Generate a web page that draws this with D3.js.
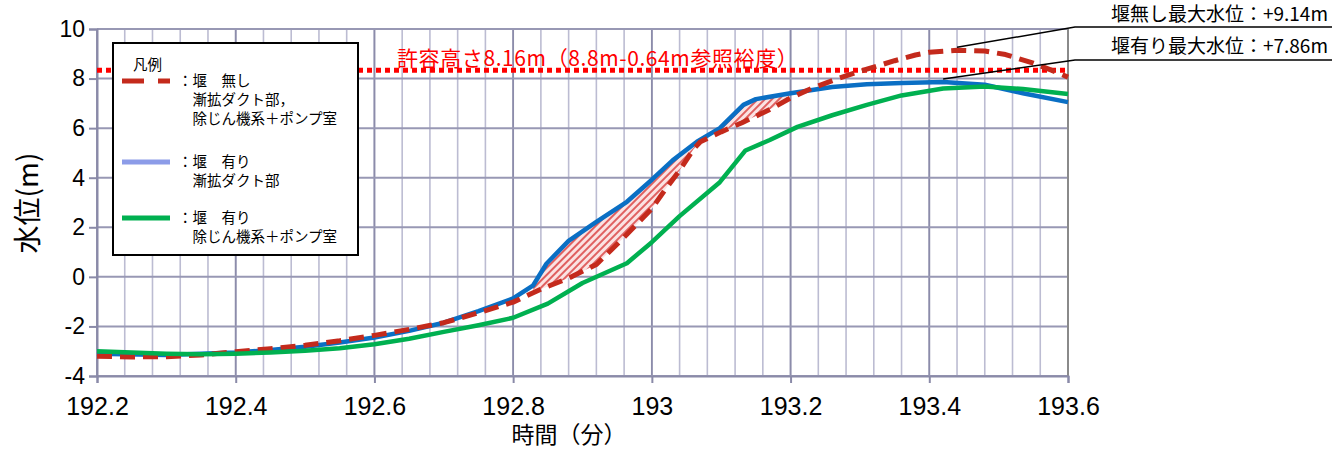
<!DOCTYPE html>
<html><head><meta charset="utf-8">
<script src="https://cdn.jsdelivr.net/npm/d3@7"></script>
<style>
html,body{margin:0;padding:0;background:#fff;}
svg{display:block;}
</style></head>
<body>
<svg id="c" width="1332" height="451"></svg>
<script>
// ---- data ----
const xTicks = [192.2, 192.4, 192.6, 192.8, 193, 193.2, 193.4, 193.6];
const xTickLabels = ["192.2", "192.4", "192.6", "192.8", "193", "193.2", "193.4", "193.6"];
const yTicks = [-4, -2, 0, 2, 4, 6, 8, 10];
const yTickLabels = ["-4", "-2", "0", "2", "4", "6", "8", "10"];

// 堰 無し (dashed red)
const tNoWeir = [192.2, 192.25, 192.3, 192.35, 192.4, 192.45, 192.5, 192.55, 192.6, 192.65, 192.7, 192.75, 192.8, 192.84, 192.88, 192.92, 192.96, 193.0, 193.02, 193.04, 193.06, 193.07, 193.1, 193.13, 193.17, 193.2, 193.23, 193.27, 193.31, 193.35, 193.38, 193.4, 193.44, 193.48, 193.51, 193.55, 193.575, 193.6];
const vNoWeir = [-3.2, -3.23, -3.22, -3.15, -3.02, -2.9, -2.76, -2.58, -2.36, -2.12, -1.85, -1.45, -1.02, -0.5, -0.05, 0.5, 1.6, 2.75, 3.55, 4.3, 5.15, 5.45, 5.85, 6.22, 6.75, 7.22, 7.6, 8.02, 8.38, 8.72, 8.95, 9.06, 9.14, 9.11, 8.97, 8.62, 8.35, 8.06];

// 堰 有り 漸拡ダクト部 (blue)
const tDuct = [192.2, 192.3, 192.4, 192.45, 192.5, 192.55, 192.6, 192.65, 192.7, 192.75, 192.8, 192.829, 192.848, 192.88, 192.92, 192.964, 193.0, 193.03, 193.065, 193.098, 193.132, 193.15, 193.2, 193.26, 193.31, 193.36, 193.42, 193.48, 193.535, 193.6];
const vDuct = [-3.1, -3.15, -3.05, -2.95, -2.82, -2.65, -2.45, -2.18, -1.85, -1.38, -0.87, -0.34, 0.53, 1.45, 2.22, 3.03, 3.92, 4.7, 5.45, 6.0, 6.94, 7.17, 7.41, 7.66, 7.77, 7.82, 7.86, 7.75, 7.41, 7.05];

// 堰 有り 除じん機系＋ポンプ室 (green)
const tPump = [192.2, 192.25, 192.3, 192.35, 192.4, 192.45, 192.5, 192.55, 192.6, 192.65, 192.7, 192.75, 192.8, 192.85, 192.9, 192.964, 193.0, 193.04, 193.098, 193.135, 193.17, 193.21, 193.26, 193.31, 193.36, 193.42, 193.48, 193.535, 193.6];
const vPump = [-3.0, -3.05, -3.1, -3.12, -3.1, -3.05, -2.98, -2.88, -2.72, -2.5, -2.22, -1.95, -1.65, -1.08, -0.25, 0.55, 1.4, 2.45, 3.82, 5.1, 5.52, 6.05, 6.52, 6.94, 7.32, 7.6, 7.68, 7.58, 7.38];

const allowLevel = 8.34;
const allowLabel = "許容高さ8.16m（8.8m-0.64m参照裕度）";
const hatchRanges = [[192.829, 193.068], [193.098, 193.195]];
const peakNoWeir = {t: 193.44, v: 9.14, label: "堰無し最大水位：+9.14m"};
const peakWeir = {t: 193.42, v: 7.86, label: "堰有り最大水位：+7.86m"};
const minorStep = 0.04;

// ---- layout ----
const svg = d3.select("#c");
const x = d3.scaleLinear().domain([192.2, 193.6]).range([97, 1068]);
const y = d3.scaleLinear().domain([-4, 10]).range([376, 29]);
const latin = "'Liberation Sans', Arial, sans-serif";
const jp = "'Noto Sans CJK JP', 'Noto Sans', sans-serif";

const defs = svg.append("defs");
const pat = defs.append("pattern").attr("id", "hatch").attr("patternUnits", "userSpaceOnUse")
  .attr("width", 5).attr("height", 5).attr("patternTransform", "rotate(45)");
pat.append("rect").attr("width", 5).attr("height", 5).attr("fill", "#fbe3e3");
pat.append("line").attr("x1", 1).attr("x2", 1).attr("y1", 0).attr("y2", 5)
  .attr("stroke", "#e06060").attr("stroke-width", 2);

// grid
const minorTicks = d3.range(0, 36).map(i => +(192.2 + i * minorStep).toFixed(2));
const g = svg.append("g");
g.selectAll("line.minor").data(minorTicks).join("line")
  .attr("x1", d => x(d)).attr("x2", d => x(d)).attr("y1", y(10)).attr("y2", y(-4))
  .attr("stroke", "#bcbcd2").attr("stroke-width", 1.6);
g.selectAll("line.majorx").data(xTicks).join("line")
  .attr("x1", d => x(d)).attr("x2", d => x(d)).attr("y1", y(10)).attr("y2", y(-4))
  .attr("stroke", "#8c8caa").attr("stroke-width", 1.8);
g.selectAll("line.majory").data(yTicks).join("line")
  .attr("x1", x(192.2)).attr("x2", x(193.6)).attr("y1", d => y(d)).attr("y2", d => y(d))
  .attr("stroke", "#9898b4").attr("stroke-width", 2);
// right frame
g.append("line").attr("x1", x(193.6)).attr("x2", x(193.6)).attr("y1", y(10)).attr("y2", y(-4))
  .attr("stroke", "#8a8a8a").attr("stroke-width", 2);

// axes
const xAxis = d3.axisBottom(x).tickValues(xTicks).tickFormat((d, i) => xTickLabels[i]).tickSize(7).tickPadding(14);
const gx = svg.append("g").attr("transform", `translate(0,${y(-4)})`).call(xAxis);
gx.select(".domain").attr("stroke", "#8a8aa8").attr("stroke-width", 2);
gx.selectAll(".tick line").attr("stroke", "#8a8aa8").attr("stroke-width", 2);
gx.selectAll(".tick text").attr("font-family", latin).attr("font-size", 25).attr("fill", "#000");

const yAxis = d3.axisLeft(y).tickValues(yTicks).tickFormat((d, i) => yTickLabels[i]).tickSize(8).tickPadding(4);
const gy = svg.append("g").attr("transform", `translate(${x(192.2)},0)`).call(yAxis);
gy.select(".domain").attr("stroke", "#8a8aa8").attr("stroke-width", 2);
gy.selectAll(".tick line").attr("stroke", "#8a8aa8").attr("stroke-width", 2);
gy.selectAll(".tick text").attr("font-family", latin).attr("font-size", 23).attr("fill", "#000");

// axis titles
svg.append("text").attr("x", 569).attr("y", 443).attr("text-anchor", "middle")
  .attr("font-family", jp).attr("font-size", 23).text("時間（分）");
svg.append("text").attr("transform", "translate(38,203) rotate(-90)").attr("text-anchor", "middle")
  .attr("font-family", jp).attr("font-size", 28).text("水位(m)");

// allowable level dotted line
svg.append("line").attr("x1", x(192.2)).attr("x2", x(193.6)).attr("y1", y(allowLevel)).attr("y2", y(allowLevel))
  .attr("stroke", "#ff0000").attr("stroke-width", 5).attr("stroke-dasharray", "5,4");
svg.append("text").attr("x", 397).attr("y", 66).attr("font-family", jp).attr("font-size", 21)
  .attr("letter-spacing", 0.6).attr("fill", "#ff0000").text(allowLabel);

// interpolation helpers
function interp(ts, vs, t) {
  const i = d3.bisectLeft(ts, t);
  if (i <= 0) return vs[0];
  if (i >= ts.length) return vs[vs.length - 1];
  const t0 = ts[i - 1], t1 = ts[i];
  return vs[i - 1] + (vs[i] - vs[i - 1]) * (t - t0) / (t1 - t0);
}
// hatch between blue (upper) and red (lower)
hatchRanges.forEach(([a, b]) => {
  const ts = Array.from(new Set([a, b, ...tDuct.filter(t => t > a && t < b), ...tNoWeir.filter(t => t > a && t < b)])).sort((p, q) => p - q);
  const pts = ts.map(t => ({t, hi: interp(tDuct, vDuct, t), lo: interp(tNoWeir, vNoWeir, t)}));
  const area = d3.area().x(d => x(d.t)).y0(d => y(d.lo)).y1(d => y(Math.max(d.hi, d.lo)));
  svg.append("path").attr("d", area(pts)).attr("fill", "url(#hatch)");
});

const line = d3.line().x(d => x(d[0])).y(d => y(d[1]));
svg.append("path").attr("d", line(d3.zip(tDuct, vDuct))).attr("fill", "none")
  .attr("stroke", "#0a6fc4").attr("stroke-width", 4.5).attr("stroke-linejoin", "round");
svg.append("path").attr("d", line(d3.zip(tNoWeir, vNoWeir))).attr("fill", "none")
  .attr("stroke", "#c42a1c").attr("stroke-width", 5).attr("stroke-dasharray", "15,8").attr("stroke-linejoin", "round");
svg.append("path").attr("d", line(d3.zip(tPump, vPump))).attr("fill", "none")
  .attr("stroke", "#00b050").attr("stroke-width", 4.5).attr("stroke-linejoin", "round");

// annotations
function annotate(p, elbowY, textY) {
  svg.append("polyline").attr("points", `${x(p.t)},${y(p.v) - 3} 1075,${elbowY} 1332,${elbowY}`)
    .attr("fill", "none").attr("stroke", "#000").attr("stroke-width", 1.5);
  svg.append("text").attr("x", 1328).attr("y", textY).attr("text-anchor", "end")
    .attr("font-family", jp).attr("font-size", 19).text(p.label);
}
annotate(peakNoWeir, 27, 21);
annotate(peakWeir, 60, 53);

// legend
const lg = svg.append("g");
lg.append("rect").attr("x", 113).attr("y", 43).attr("width", 245).attr("height", 212)
  .attr("fill", "#fff").attr("stroke", "#000").attr("stroke-width", 2);
lg.append("text").attr("x", 133).attr("y", 70).attr("font-family", jp).attr("font-size", 14.5).text("凡例");
const legendItems = [
  {y: 81, stroke: "#c42a1c", dash: "22,14", lines: ["：堰　無し", "　漸拡ダクト部，", "　除じん機系＋ポンプ室"]},
  {y: 162, stroke: "#8c9ce8", dash: null, lines: ["：堰　有り", "　漸拡ダクト部"]},
  {y: 218, stroke: "#00b050", dash: null, lines: ["：堰　有り", "　除じん機系＋ポンプ室"]}
];
legendItems.forEach(it => {
  lg.append("line").attr("x1", 122).attr("x2", 170).attr("y1", it.y).attr("y2", it.y)
    .attr("stroke", it.stroke).attr("stroke-width", 5).attr("stroke-dasharray", it.dash);
  it.lines.forEach((s, i) => {
    lg.append("text").attr("x", 178).attr("y", it.y + 5 + i * 19).attr("font-family", jp)
      .attr("font-size", 14.5).text(s);
  });
});
</script>
</body></html>
